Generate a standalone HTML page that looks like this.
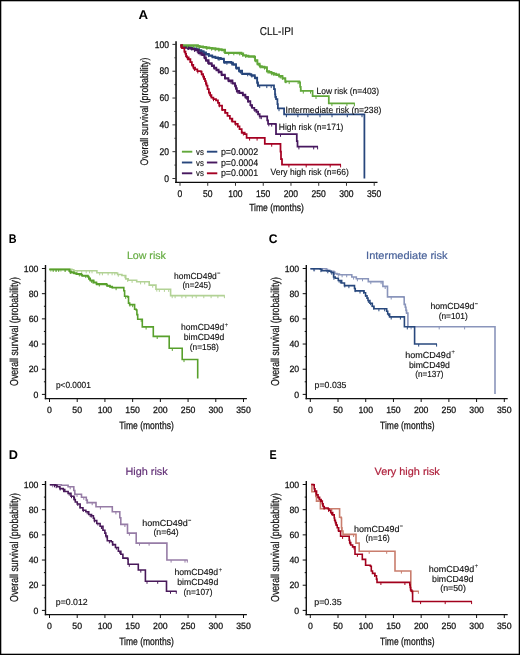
<!DOCTYPE html>
<html><head><meta charset="utf-8"><style>
html,body{margin:0;padding:0;background:#fff;}
body{width:520px;height:655px;overflow:hidden;position:relative;}
svg{position:absolute;left:0;top:0;display:block;will-change:transform;}
svg text{font-family:"Liberation Sans", sans-serif;text-rendering:geometricPrecision;}
</style></head><body>
<svg width="520" height="655" viewBox="0 0 520 655">
<rect x="0" y="0" width="520" height="655" fill="#fff"/>
<line x1="176.05" y1="41.3" x2="176.05" y2="183.0" stroke="#333" stroke-width="1.8"/>
<line x1="175.15" y1="182.4" x2="377.5" y2="182.4" stroke="#0a0a0a" stroke-width="1.2"/>
<line x1="172.45000000000002" y1="178.5" x2="176.05" y2="178.5" stroke="#333" stroke-width="1.0"/>
<text x="164.15" y="181.65" font-size="9.7" fill="#111" font-weight="normal" text-anchor="start" textLength="4.75" lengthAdjust="spacingAndGlyphs" stroke="#111" stroke-width="0.25">0</text>
<line x1="174.45000000000002" y1="165.09" x2="176.05" y2="165.09" stroke="#333" stroke-width="1.0"/>
<line x1="172.45000000000002" y1="151.68" x2="176.05" y2="151.68" stroke="#333" stroke-width="1.0"/>
<text x="159.4" y="154.83" font-size="9.7" fill="#111" font-weight="normal" text-anchor="start" textLength="9.5" lengthAdjust="spacingAndGlyphs" stroke="#111" stroke-width="0.25">20</text>
<line x1="174.45000000000002" y1="138.26999999999998" x2="176.05" y2="138.26999999999998" stroke="#333" stroke-width="1.0"/>
<line x1="172.45000000000002" y1="124.86" x2="176.05" y2="124.86" stroke="#333" stroke-width="1.0"/>
<text x="159.4" y="128.01" font-size="9.7" fill="#111" font-weight="normal" text-anchor="start" textLength="9.5" lengthAdjust="spacingAndGlyphs" stroke="#111" stroke-width="0.25">40</text>
<line x1="174.45000000000002" y1="111.45" x2="176.05" y2="111.45" stroke="#333" stroke-width="1.0"/>
<line x1="172.45000000000002" y1="98.03999999999999" x2="176.05" y2="98.03999999999999" stroke="#333" stroke-width="1.0"/>
<text x="159.4" y="101.19" font-size="9.7" fill="#111" font-weight="normal" text-anchor="start" textLength="9.5" lengthAdjust="spacingAndGlyphs" stroke="#111" stroke-width="0.25">60</text>
<line x1="174.45000000000002" y1="84.63" x2="176.05" y2="84.63" stroke="#333" stroke-width="1.0"/>
<line x1="172.45000000000002" y1="71.22" x2="176.05" y2="71.22" stroke="#333" stroke-width="1.0"/>
<text x="159.4" y="74.37" font-size="9.7" fill="#111" font-weight="normal" text-anchor="start" textLength="9.5" lengthAdjust="spacingAndGlyphs" stroke="#111" stroke-width="0.25">80</text>
<line x1="174.45000000000002" y1="57.81" x2="176.05" y2="57.81" stroke="#333" stroke-width="1.0"/>
<line x1="172.45000000000002" y1="44.400000000000006" x2="176.05" y2="44.400000000000006" stroke="#333" stroke-width="1.0"/>
<text x="154.65" y="47.55" font-size="9.7" fill="#111" font-weight="normal" text-anchor="start" textLength="14.25" lengthAdjust="spacingAndGlyphs" stroke="#111" stroke-width="0.25">100</text>
<line x1="180.0" y1="182.4" x2="180.0" y2="185.8" stroke="#333" stroke-width="1.0"/>
<text x="177.62" y="197.1" font-size="9.7" fill="#111" font-weight="normal" text-anchor="start" textLength="4.75" lengthAdjust="spacingAndGlyphs" stroke="#111" stroke-width="0.25">0</text>
<line x1="207.745" y1="182.4" x2="207.745" y2="185.8" stroke="#333" stroke-width="1.0"/>
<text x="203.0" y="197.1" font-size="9.7" fill="#111" font-weight="normal" text-anchor="start" textLength="9.5" lengthAdjust="spacingAndGlyphs" stroke="#111" stroke-width="0.25">50</text>
<line x1="235.49" y1="182.4" x2="235.49" y2="185.8" stroke="#333" stroke-width="1.0"/>
<text x="228.37" y="197.1" font-size="9.7" fill="#111" font-weight="normal" text-anchor="start" textLength="14.25" lengthAdjust="spacingAndGlyphs" stroke="#111" stroke-width="0.25">100</text>
<line x1="263.235" y1="182.4" x2="263.235" y2="185.8" stroke="#333" stroke-width="1.0"/>
<text x="256.11" y="197.1" font-size="9.7" fill="#111" font-weight="normal" text-anchor="start" textLength="14.25" lengthAdjust="spacingAndGlyphs" stroke="#111" stroke-width="0.25">150</text>
<line x1="290.98" y1="182.4" x2="290.98" y2="185.8" stroke="#333" stroke-width="1.0"/>
<text x="283.86" y="197.1" font-size="9.7" fill="#111" font-weight="normal" text-anchor="start" textLength="14.25" lengthAdjust="spacingAndGlyphs" stroke="#111" stroke-width="0.25">200</text>
<line x1="318.725" y1="182.4" x2="318.725" y2="185.8" stroke="#333" stroke-width="1.0"/>
<text x="311.6" y="197.1" font-size="9.7" fill="#111" font-weight="normal" text-anchor="start" textLength="14.25" lengthAdjust="spacingAndGlyphs" stroke="#111" stroke-width="0.25">250</text>
<line x1="346.46999999999997" y1="182.4" x2="346.46999999999997" y2="185.8" stroke="#333" stroke-width="1.0"/>
<text x="339.34" y="197.1" font-size="9.7" fill="#111" font-weight="normal" text-anchor="start" textLength="14.25" lengthAdjust="spacingAndGlyphs" stroke="#111" stroke-width="0.25">300</text>
<line x1="374.215" y1="182.4" x2="374.215" y2="185.8" stroke="#333" stroke-width="1.0"/>
<text x="367.09" y="197.1" font-size="9.7" fill="#111" font-weight="normal" text-anchor="start" textLength="14.25" lengthAdjust="spacingAndGlyphs" stroke="#111" stroke-width="0.25">350</text>
<text transform="translate(148.1,111.55) rotate(-90)" x="-53.9" y="0" font-size="11.0" fill="#111" stroke="#111" stroke-width="0.2" textLength="107.8" lengthAdjust="spacingAndGlyphs">Overall survival (probability)</text>
<text x="249.2" y="211.4" font-size="10.3" fill="#111" font-weight="normal" text-anchor="start" textLength="54.6" lengthAdjust="spacingAndGlyphs" stroke="#111" stroke-width="0.25">Time (months)</text>
<path d="M180.5,45H182.25V46.30H184.00H185.33V46.73H188.00V47.17H190.67V47.60H192.00H193.50V48.40H196.50V49.20H198.00H199.12V50.10H201.38V51.00H202.50H203.68V52.40H206.02V53.80H207.20H208.90V55.25H212.30V56.70H214.00H215.37V57.30H218.10V57.90H220.83V58.50H222.20H223.90V61.90H225.60H231.4V62.5H233.00V64.20H234.60H236.05V67.70H237.50H238.95V70.60H240.40H242.10V73.50H243.80H249.6V74H251.35V75.20H253.10H254.80V77.50H256.50H257.2V82.4H257.95V85.30H258.70H273.6H274V89.1H275V94.4H275.35V96.80H276.05V99.20H276.40H277.4V104H277.9V108.4H283.7H284.1V114.4H364.4V178.4" fill="none" stroke="#27467c" stroke-width="1.75" stroke-linejoin="miter" stroke-linecap="butt"/>
<path d="M180.5,45.9H182.25V47.20H184.00H185.33V47.63H188.00V48.07H190.67V48.50H192.00H193.50V49.30H196.50V50.10H198.00H199.12V51.00H201.38V51.90H202.50H203.68V53.30H206.02V54.70H207.20H208.90V56.15H212.30V57.60H214.00H215.37V58.20H218.10V58.80H220.83V59.40H222.20H223.90V62.80H225.60H231.4V63.4H233.00V65.10H234.60H236.05V68.60H237.50H238.95V71.50H240.40H242.10V74.40H243.80H249.6V74.9H251.35V76.10H253.10H254.80V78.40H256.50H257.2V83.3H257.95V86.20H258.70" fill="none" stroke="#27467c" stroke-width="1.40" stroke-linejoin="miter"/>
<path d="M182.1,45.59v2.8M188.5,47.03v2.8M191.4,47.50v2.8M194.8,48.35v2.8M200.3,50.11v2.8M205.3,52.64v2.8M208.5,54.34v2.8M218.2,57.62v2.8M219.2,57.83v2.8M224.9,61.20v2.8M226.9,61.90v2.8M231.7,62.65v2.8M236.9,67.03v2.8M239.5,69.71v2.8M240.5,70.72v2.8M247.7,73.50v2.8M251.9,74.78v2.8M255.2,76.62v2.8M257.4,82.86v2.8M259.7,85.30v2.8M266.8,85.30v2.8M271.2,85.30v2.8M275.3,95.56v2.8M279.0,108.40v2.8M286.4,114.40v2.8M297.9,114.40v2.8M307.9,114.40v2.8M320.0,114.40v2.8M332.0,114.40v2.8M347.3,114.40v2.8M362.0,114.40v2.8" fill="none" stroke="#27467c" stroke-width="1.0"/>
<path d="M180.5,45H182.25V46.30H184.00H185.50V47.05H188.50V47.80H190.00H191.70V48.75H195.10V49.70H196.80H198.50V52.70H200.20H201.95V54.40H203.70H204.42V57.30H205.88V60.20H206.60H208.60V63.10H210.60H211.75V65.40H214.05V67.70H215.20H216.35V69.70H218.65V71.70H219.80H221.55V74.50H223.30H224.90V78.00H226.50H228.40V80.40H230.30H232.45V83.00H234.60H235.03V85.60H235.90V88.20H236.77V90.80H237.20H239.35V92.50H241.50H242.80V94.65H245.40V96.80H246.70H248.00V101.20H249.30H250.35V105.00H251.40H252.15V107.90H252.90H254.35V109.80H255.80H256.50V111.70H257.20H258.15V114.10H259.10H259.65V116.40H260.20H266.3H267.2V120.4H268.05V123.80H268.90H275.4V124H276V134.0H296H296.8V141.2H297.5V146.6H318.0" fill="none" stroke="#47185f" stroke-width="1.75" stroke-linejoin="miter" stroke-linecap="butt"/>
<path d="M180.5,45.9H182.25V47.20H184.00H185.50V47.95H188.50V48.70H190.00H191.70V49.65H195.10V50.60H196.80H198.50V53.60H200.20H201.95V55.30H203.70H204.42V58.20H205.88V61.10H206.60H208.60V64.00H210.60H211.75V66.30H214.05V68.60H215.20H216.35V70.60H218.65V72.60H219.80H221.55V75.40H223.30H224.90V78.90H226.50H228.40V81.30H230.30H232.45V83.90H234.60H235.03V86.50H235.90V89.10H236.77V91.70H237.20H239.35V93.40H241.50H242.80V95.55H245.40V97.70H246.70H248.00V102.10H249.30" fill="none" stroke="#47185f" stroke-width="1.40" stroke-linejoin="miter"/>
<path d="M317.60,146.60v2.8" stroke="#47185f" stroke-width="1.0" fill="none"/>
<path d="M182.2,45.62v2.8M187.9,47.29v2.8M194.5,49.07v2.8M197.3,50.13v2.8M200.2,52.72v2.8M204.8,56.57v2.8M207.7,60.99v2.8M214.3,66.83v2.8M218.4,70.46v2.8M221.9,73.38v2.8M225.1,76.45v2.8M229.0,79.59v2.8M230.9,80.78v2.8M235.7,86.43v2.8M237.9,91.08v2.8M246.2,96.40v2.8M246.9,97.06v2.8M251.0,104.31v2.8M251.5,105.22v2.8M254.9,109.21v2.8M256.3,110.44v2.8M258.0,112.67v2.8M260.0,116.04v2.8M261.3,116.40v2.8M268.8,123.51v2.8M271.7,123.80v2.8M280.5,134.00v2.8M298.9,146.60v2.8M313.7,146.60v2.8" fill="none" stroke="#47185f" stroke-width="1.0"/>
<path d="M180.5,45H190V45.2H198V45.8H199.70V46.35H203.10V46.90H204.80H206.33V47.33H209.40V47.77H212.47V48.20H214.00H215.55V48.67H218.65V49.13H221.75V49.60H223.30H225.05V52.50H226.80H236.9V52.7H241.5V53.3H243.25V55.00H245.00H246.15V55.60H248.45V56.20H249.60H254.2V56.7H255.10V60.20H256.00H257.40V63.70H258.80H259.70V66.00H260.60H261.90V66.55H264.50V67.10H265.80H266.95V71.00H268.10H269.25V71.95H271.55V72.90H272.70H273.85V73.60H276.15V74.30H277.30H279.05V75.90H280.80H282.50V78.00H284.20H285.35V81.30H286.50H299.4V82.3H300.1V86.8H300.75V90.80H301.40H312.4H312.6V96.2H328.6H328.8V103.3H354.8" fill="none" stroke="#62a83b" stroke-width="1.75" stroke-linejoin="miter" stroke-linecap="butt"/>
<path d="M180.5,45.9H190V46.1H198V46.7H199.70V47.25H203.10V47.80H204.80H206.33V48.23H209.40V48.67H212.47V49.10H214.00H215.55V49.57H218.65V50.03H221.75V50.50H223.30H225.05V53.40H226.80H236.9V53.6H241.5V54.2H243.25V55.90H245.00H246.15V56.50H248.45V57.10H249.60H254.2V57.6H255.10V61.10H256.00H257.40V64.60H258.80H259.70V66.90H260.60H261.90V67.45H264.50V68.00H265.80H266.95V71.90H268.10H269.25V72.85H271.55V73.80H272.70H273.85V74.50H276.15V75.20H277.30H279.05V76.80H280.80H282.50V78.90H284.20H285.35V82.20H286.50" fill="none" stroke="#62a83b" stroke-width="1.40" stroke-linejoin="miter"/>
<path d="M354.40,103.30v2.8" stroke="#62a83b" stroke-width="1.0" fill="none"/>
<path d="M182.3,45.00v2.8M187.4,45.00v2.8M193.5,45.20v2.8M196.7,45.20v2.8M199.0,45.96v2.8M206.9,47.19v2.8M211.6,47.85v2.8M215.2,48.38v2.8M218.9,48.94v2.8M224.0,50.22v2.8M228.7,52.50v2.8M233.8,52.50v2.8M239.7,52.70v2.8M242.5,53.77v2.8M245.7,55.18v2.8M255.7,59.53v2.8M258.3,63.02v2.8M260.3,65.60v2.8M264.5,66.82v2.8M268.0,70.80v2.8M271.8,72.51v2.8M273.9,73.26v2.8M280.3,75.66v2.8M282.5,76.92v2.8M285.9,80.49v2.8M289.2,81.30v2.8M298.1,81.30v2.8M300.7,88.52v2.8M303.3,90.80v2.8M310.5,90.80v2.8M316.0,96.20v2.8M331.9,103.30v2.8M346.9,103.30v2.8" fill="none" stroke="#62a83b" stroke-width="1.0"/>
<path d="M180.5,45H182.00V48.10H183.50H184.35V51.50H185.20H185.50V53.85H186.10V56.20H186.40H186.95V57.30H187.50H188.65V59.00H189.80H190.40V62.00H191.00H191.85V64.80H192.70H193.30V67.70H193.90H195.05V69.40H196.20H197.35V71.20H198.50H200.8V71.7H201.65V74.00H202.50H203.10V76.50H203.70H204.15V78.75H205.05V81.00H205.50H205.85V83.30H206.55V85.60H206.90H207.55V89.05H208.85V92.50H209.50H210.15V95.10H211.45V97.70H212.10H213.40V99.00H216.00V100.30H217.30H217.95V102.90H219.25V105.50H219.90H222.05V109.80H224.20H225.30V112.85H227.50V115.90H228.60H229.85V118.70H232.35V121.50H233.60H235.25V123.80H236.90H237.78V126.40H239.53V129.00H240.40H241.70V132.50H243.00H244.70V134.20H246.40H246.6V137.8H264.6H264.8V143.9H279.5H280.5V151.5H281V159.2H282V164.6H341" fill="none" stroke="#a50022" stroke-width="1.75" stroke-linejoin="miter" stroke-linecap="butt"/>
<path d="M340.60,164.60v2.8" stroke="#a50022" stroke-width="1.0" fill="none"/>
<path d="M180.8,45.33v2.8M184.7,50.49v2.8M186.0,54.56v2.8M187.4,57.23v2.8M188.1,57.76v2.8M190.1,59.77v2.8M192.2,64.06v2.8M193.5,66.71v2.8M194.6,68.22v2.8M197.8,70.63v2.8M201.5,72.61v2.8M203.4,75.94v2.8M203.9,77.03v2.8M205.8,82.03v2.8M209.2,91.82v2.8M210.4,94.36v2.8M213.5,98.38v2.8M219.4,104.48v2.8M222.6,108.22v2.8M224.9,110.71v2.8M231.4,118.99v2.8M235.8,123.03v2.8M237.5,124.66v2.8M242.1,131.28v2.8M243.4,132.71v2.8M249.6,137.80v2.8M257.1,137.80v2.8M271.7,143.90v2.8M288.9,164.60v2.8M306.2,164.60v2.8M330.2,164.60v2.8" fill="none" stroke="#a50022" stroke-width="1.0"/>
<text x="138.5" y="18.8" font-size="12.6" fill="#000" font-weight="bold" text-anchor="start" textLength="9.6" lengthAdjust="spacingAndGlyphs">A</text>
<text x="259.8" y="35.1" font-size="11.3" fill="#111" font-weight="normal" text-anchor="start" textLength="33.8" lengthAdjust="spacingAndGlyphs" stroke="#111" stroke-width="0.15">CLL-IPI</text>
<text x="316.5" y="93.6" font-size="9.0" fill="#111" font-weight="normal" text-anchor="start" textLength="62.6" lengthAdjust="spacingAndGlyphs" stroke="#111" stroke-width="0.15">Low risk (n=403)</text>
<text x="285.5" y="112.7" font-size="9.0" fill="#111" font-weight="normal" text-anchor="start" textLength="95.8" lengthAdjust="spacingAndGlyphs" stroke="#111" stroke-width="0.15">Intermediate risk (n=238)</text>
<text x="278.8" y="130.0" font-size="9.0" fill="#111" font-weight="normal" text-anchor="start" textLength="64.6" lengthAdjust="spacingAndGlyphs" stroke="#111" stroke-width="0.15">High risk (n=171)</text>
<text x="270.6" y="174.6" font-size="9.0" fill="#111" font-weight="normal" text-anchor="start" textLength="78.2" lengthAdjust="spacingAndGlyphs" stroke="#111" stroke-width="0.15">Very high risk (n=66)</text>
<line x1="181.9" y1="151.7" x2="192.3" y2="151.7" stroke="#62a83b" stroke-width="1.9"/>
<line x1="206.9" y1="151.7" x2="217.3" y2="151.7" stroke="#27467c" stroke-width="1.9"/>
<text x="196.0" y="154.8" font-size="9.0" fill="#111" font-weight="normal" text-anchor="start" textLength="7.8" lengthAdjust="spacingAndGlyphs" stroke="#111" stroke-width="0.15">vs</text>
<text x="220.9" y="154.8" font-size="9.5" fill="#111" font-weight="normal" text-anchor="start" textLength="37.2" lengthAdjust="spacingAndGlyphs" stroke="#111" stroke-width="0.15">p=0.0002</text>
<line x1="181.9" y1="162.5" x2="192.3" y2="162.5" stroke="#27467c" stroke-width="1.9"/>
<line x1="206.9" y1="162.5" x2="217.3" y2="162.5" stroke="#47185f" stroke-width="1.9"/>
<text x="196.0" y="165.6" font-size="9.0" fill="#111" font-weight="normal" text-anchor="start" textLength="7.8" lengthAdjust="spacingAndGlyphs" stroke="#111" stroke-width="0.15">vs</text>
<text x="220.9" y="165.6" font-size="9.5" fill="#111" font-weight="normal" text-anchor="start" textLength="37.2" lengthAdjust="spacingAndGlyphs" stroke="#111" stroke-width="0.15">p=0.0004</text>
<line x1="181.9" y1="173.3" x2="192.3" y2="173.3" stroke="#47185f" stroke-width="1.9"/>
<line x1="206.9" y1="173.3" x2="217.3" y2="173.3" stroke="#a50022" stroke-width="1.9"/>
<text x="196.0" y="176.4" font-size="9.0" fill="#111" font-weight="normal" text-anchor="start" textLength="7.8" lengthAdjust="spacingAndGlyphs" stroke="#111" stroke-width="0.15">vs</text>
<text x="220.9" y="176.4" font-size="9.5" fill="#111" font-weight="normal" text-anchor="start" textLength="37.2" lengthAdjust="spacingAndGlyphs" stroke="#111" stroke-width="0.15">p=0.0001</text>
<line x1="45.5" y1="265" x2="45.5" y2="399.25" stroke="#111" stroke-width="1.4"/>
<line x1="44.8" y1="398.6" x2="246.9" y2="398.6" stroke="#111" stroke-width="1.3"/>
<line x1="41.9" y1="394.4" x2="45.5" y2="394.4" stroke="#111" stroke-width="1.0"/>
<text x="33.55" y="397.55" font-size="9.1" fill="#111" font-weight="normal" text-anchor="start" textLength="4.85" lengthAdjust="spacingAndGlyphs" stroke="#111" stroke-width="0.25">0</text>
<line x1="43.9" y1="381.81" x2="45.5" y2="381.81" stroke="#111" stroke-width="1.0"/>
<line x1="41.9" y1="369.21999999999997" x2="45.5" y2="369.21999999999997" stroke="#111" stroke-width="1.0"/>
<text x="28.7" y="372.37" font-size="9.1" fill="#111" font-weight="normal" text-anchor="start" textLength="9.7" lengthAdjust="spacingAndGlyphs" stroke="#111" stroke-width="0.25">20</text>
<line x1="43.9" y1="356.63" x2="45.5" y2="356.63" stroke="#111" stroke-width="1.0"/>
<line x1="41.9" y1="344.03999999999996" x2="45.5" y2="344.03999999999996" stroke="#111" stroke-width="1.0"/>
<text x="28.7" y="347.19" font-size="9.1" fill="#111" font-weight="normal" text-anchor="start" textLength="9.7" lengthAdjust="spacingAndGlyphs" stroke="#111" stroke-width="0.25">40</text>
<line x1="43.9" y1="331.45" x2="45.5" y2="331.45" stroke="#111" stroke-width="1.0"/>
<line x1="41.9" y1="318.86" x2="45.5" y2="318.86" stroke="#111" stroke-width="1.0"/>
<text x="28.7" y="322.01" font-size="9.1" fill="#111" font-weight="normal" text-anchor="start" textLength="9.7" lengthAdjust="spacingAndGlyphs" stroke="#111" stroke-width="0.25">60</text>
<line x1="43.9" y1="306.27" x2="45.5" y2="306.27" stroke="#111" stroke-width="1.0"/>
<line x1="41.9" y1="293.68" x2="45.5" y2="293.68" stroke="#111" stroke-width="1.0"/>
<text x="28.7" y="296.83" font-size="9.1" fill="#111" font-weight="normal" text-anchor="start" textLength="9.7" lengthAdjust="spacingAndGlyphs" stroke="#111" stroke-width="0.25">80</text>
<line x1="43.9" y1="281.09" x2="45.5" y2="281.09" stroke="#111" stroke-width="1.0"/>
<line x1="41.9" y1="268.5" x2="45.5" y2="268.5" stroke="#111" stroke-width="1.0"/>
<text x="23.85" y="271.65" font-size="9.1" fill="#111" font-weight="normal" text-anchor="start" textLength="14.549999999999999" lengthAdjust="spacingAndGlyphs" stroke="#111" stroke-width="0.25">100</text>
<line x1="49.5" y1="398.6" x2="49.5" y2="402.0" stroke="#111" stroke-width="1.0"/>
<text x="47.08" y="413.3" font-size="9.1" fill="#111" font-weight="normal" text-anchor="start" textLength="4.85" lengthAdjust="spacingAndGlyphs" stroke="#111" stroke-width="0.25">0</text>
<line x1="77.215" y1="398.6" x2="77.215" y2="402.0" stroke="#111" stroke-width="1.0"/>
<text x="72.37" y="413.3" font-size="9.1" fill="#111" font-weight="normal" text-anchor="start" textLength="9.7" lengthAdjust="spacingAndGlyphs" stroke="#111" stroke-width="0.25">50</text>
<line x1="104.93" y1="398.6" x2="104.93" y2="402.0" stroke="#111" stroke-width="1.0"/>
<text x="97.66" y="413.3" font-size="9.1" fill="#111" font-weight="normal" text-anchor="start" textLength="14.549999999999999" lengthAdjust="spacingAndGlyphs" stroke="#111" stroke-width="0.25">100</text>
<line x1="132.64499999999998" y1="398.6" x2="132.64499999999998" y2="402.0" stroke="#111" stroke-width="1.0"/>
<text x="125.37" y="413.3" font-size="9.1" fill="#111" font-weight="normal" text-anchor="start" textLength="14.549999999999999" lengthAdjust="spacingAndGlyphs" stroke="#111" stroke-width="0.25">150</text>
<line x1="160.36" y1="398.6" x2="160.36" y2="402.0" stroke="#111" stroke-width="1.0"/>
<text x="153.09" y="413.3" font-size="9.1" fill="#111" font-weight="normal" text-anchor="start" textLength="14.549999999999999" lengthAdjust="spacingAndGlyphs" stroke="#111" stroke-width="0.25">200</text>
<line x1="188.07500000000002" y1="398.6" x2="188.07500000000002" y2="402.0" stroke="#111" stroke-width="1.0"/>
<text x="180.8" y="413.3" font-size="9.1" fill="#111" font-weight="normal" text-anchor="start" textLength="14.549999999999999" lengthAdjust="spacingAndGlyphs" stroke="#111" stroke-width="0.25">250</text>
<line x1="215.79" y1="398.6" x2="215.79" y2="402.0" stroke="#111" stroke-width="1.0"/>
<text x="208.51" y="413.3" font-size="9.1" fill="#111" font-weight="normal" text-anchor="start" textLength="14.549999999999999" lengthAdjust="spacingAndGlyphs" stroke="#111" stroke-width="0.25">300</text>
<line x1="243.505" y1="398.6" x2="243.505" y2="402.0" stroke="#111" stroke-width="1.0"/>
<text x="236.23" y="413.3" font-size="9.1" fill="#111" font-weight="normal" text-anchor="start" textLength="14.549999999999999" lengthAdjust="spacingAndGlyphs" stroke="#111" stroke-width="0.25">350</text>
<text transform="translate(17.9,331.55) rotate(-90)" x="-54.4" y="0" font-size="11.5" fill="#111" stroke="#111" stroke-width="0.2" textLength="108.8" lengthAdjust="spacingAndGlyphs">Overall survival (probability)</text>
<text x="119.2" y="428.5" font-size="10.7" fill="#111" font-weight="normal" text-anchor="start" textLength="54.6" lengthAdjust="spacingAndGlyphs" stroke="#111" stroke-width="0.25">Time (months)</text>
<line x1="306.3" y1="265" x2="306.3" y2="399.25" stroke="#111" stroke-width="1.4"/>
<line x1="305.6" y1="398.6" x2="507.70000000000005" y2="398.6" stroke="#111" stroke-width="1.3"/>
<line x1="302.7" y1="394.4" x2="306.3" y2="394.4" stroke="#111" stroke-width="1.0"/>
<text x="294.35" y="397.55" font-size="9.1" fill="#111" font-weight="normal" text-anchor="start" textLength="4.85" lengthAdjust="spacingAndGlyphs" stroke="#111" stroke-width="0.25">0</text>
<line x1="304.7" y1="381.81" x2="306.3" y2="381.81" stroke="#111" stroke-width="1.0"/>
<line x1="302.7" y1="369.21999999999997" x2="306.3" y2="369.21999999999997" stroke="#111" stroke-width="1.0"/>
<text x="289.5" y="372.37" font-size="9.1" fill="#111" font-weight="normal" text-anchor="start" textLength="9.7" lengthAdjust="spacingAndGlyphs" stroke="#111" stroke-width="0.25">20</text>
<line x1="304.7" y1="356.63" x2="306.3" y2="356.63" stroke="#111" stroke-width="1.0"/>
<line x1="302.7" y1="344.03999999999996" x2="306.3" y2="344.03999999999996" stroke="#111" stroke-width="1.0"/>
<text x="289.5" y="347.19" font-size="9.1" fill="#111" font-weight="normal" text-anchor="start" textLength="9.7" lengthAdjust="spacingAndGlyphs" stroke="#111" stroke-width="0.25">40</text>
<line x1="304.7" y1="331.45" x2="306.3" y2="331.45" stroke="#111" stroke-width="1.0"/>
<line x1="302.7" y1="318.86" x2="306.3" y2="318.86" stroke="#111" stroke-width="1.0"/>
<text x="289.5" y="322.01" font-size="9.1" fill="#111" font-weight="normal" text-anchor="start" textLength="9.7" lengthAdjust="spacingAndGlyphs" stroke="#111" stroke-width="0.25">60</text>
<line x1="304.7" y1="306.27" x2="306.3" y2="306.27" stroke="#111" stroke-width="1.0"/>
<line x1="302.7" y1="293.68" x2="306.3" y2="293.68" stroke="#111" stroke-width="1.0"/>
<text x="289.5" y="296.83" font-size="9.1" fill="#111" font-weight="normal" text-anchor="start" textLength="9.7" lengthAdjust="spacingAndGlyphs" stroke="#111" stroke-width="0.25">80</text>
<line x1="304.7" y1="281.09" x2="306.3" y2="281.09" stroke="#111" stroke-width="1.0"/>
<line x1="302.7" y1="268.5" x2="306.3" y2="268.5" stroke="#111" stroke-width="1.0"/>
<text x="284.65" y="271.65" font-size="9.1" fill="#111" font-weight="normal" text-anchor="start" textLength="14.549999999999999" lengthAdjust="spacingAndGlyphs" stroke="#111" stroke-width="0.25">100</text>
<line x1="310.3" y1="398.6" x2="310.3" y2="402.0" stroke="#111" stroke-width="1.0"/>
<text x="307.88" y="413.3" font-size="9.1" fill="#111" font-weight="normal" text-anchor="start" textLength="4.85" lengthAdjust="spacingAndGlyphs" stroke="#111" stroke-width="0.25">0</text>
<line x1="338.015" y1="398.6" x2="338.015" y2="402.0" stroke="#111" stroke-width="1.0"/>
<text x="333.16" y="413.3" font-size="9.1" fill="#111" font-weight="normal" text-anchor="start" textLength="9.7" lengthAdjust="spacingAndGlyphs" stroke="#111" stroke-width="0.25">50</text>
<line x1="365.73" y1="398.6" x2="365.73" y2="402.0" stroke="#111" stroke-width="1.0"/>
<text x="358.46" y="413.3" font-size="9.1" fill="#111" font-weight="normal" text-anchor="start" textLength="14.549999999999999" lengthAdjust="spacingAndGlyphs" stroke="#111" stroke-width="0.25">100</text>
<line x1="393.445" y1="398.6" x2="393.445" y2="402.0" stroke="#111" stroke-width="1.0"/>
<text x="386.17" y="413.3" font-size="9.1" fill="#111" font-weight="normal" text-anchor="start" textLength="14.549999999999999" lengthAdjust="spacingAndGlyphs" stroke="#111" stroke-width="0.25">150</text>
<line x1="421.16" y1="398.6" x2="421.16" y2="402.0" stroke="#111" stroke-width="1.0"/>
<text x="413.89" y="413.3" font-size="9.1" fill="#111" font-weight="normal" text-anchor="start" textLength="14.549999999999999" lengthAdjust="spacingAndGlyphs" stroke="#111" stroke-width="0.25">200</text>
<line x1="448.875" y1="398.6" x2="448.875" y2="402.0" stroke="#111" stroke-width="1.0"/>
<text x="441.6" y="413.3" font-size="9.1" fill="#111" font-weight="normal" text-anchor="start" textLength="14.549999999999999" lengthAdjust="spacingAndGlyphs" stroke="#111" stroke-width="0.25">250</text>
<line x1="476.59000000000003" y1="398.6" x2="476.59000000000003" y2="402.0" stroke="#111" stroke-width="1.0"/>
<text x="469.32" y="413.3" font-size="9.1" fill="#111" font-weight="normal" text-anchor="start" textLength="14.549999999999999" lengthAdjust="spacingAndGlyphs" stroke="#111" stroke-width="0.25">300</text>
<line x1="504.305" y1="398.6" x2="504.305" y2="402.0" stroke="#111" stroke-width="1.0"/>
<text x="497.03" y="413.3" font-size="9.1" fill="#111" font-weight="normal" text-anchor="start" textLength="14.549999999999999" lengthAdjust="spacingAndGlyphs" stroke="#111" stroke-width="0.25">350</text>
<text transform="translate(278.7,331.55) rotate(-90)" x="-54.4" y="0" font-size="11.5" fill="#111" stroke="#111" stroke-width="0.2" textLength="108.8" lengthAdjust="spacingAndGlyphs">Overall survival (probability)</text>
<text x="380.0" y="428.5" font-size="10.7" fill="#111" font-weight="normal" text-anchor="start" textLength="54.6" lengthAdjust="spacingAndGlyphs" stroke="#111" stroke-width="0.25">Time (months)</text>
<line x1="45.5" y1="481" x2="45.5" y2="615.25" stroke="#111" stroke-width="1.4"/>
<line x1="44.8" y1="614.6" x2="246.9" y2="614.6" stroke="#111" stroke-width="1.3"/>
<line x1="41.9" y1="610.4" x2="45.5" y2="610.4" stroke="#111" stroke-width="1.0"/>
<text x="33.55" y="613.55" font-size="9.1" fill="#111" font-weight="normal" text-anchor="start" textLength="4.85" lengthAdjust="spacingAndGlyphs" stroke="#111" stroke-width="0.25">0</text>
<line x1="43.9" y1="597.81" x2="45.5" y2="597.81" stroke="#111" stroke-width="1.0"/>
<line x1="41.9" y1="585.22" x2="45.5" y2="585.22" stroke="#111" stroke-width="1.0"/>
<text x="28.7" y="588.37" font-size="9.1" fill="#111" font-weight="normal" text-anchor="start" textLength="9.7" lengthAdjust="spacingAndGlyphs" stroke="#111" stroke-width="0.25">20</text>
<line x1="43.9" y1="572.63" x2="45.5" y2="572.63" stroke="#111" stroke-width="1.0"/>
<line x1="41.9" y1="560.04" x2="45.5" y2="560.04" stroke="#111" stroke-width="1.0"/>
<text x="28.7" y="563.19" font-size="9.1" fill="#111" font-weight="normal" text-anchor="start" textLength="9.7" lengthAdjust="spacingAndGlyphs" stroke="#111" stroke-width="0.25">40</text>
<line x1="43.9" y1="547.45" x2="45.5" y2="547.45" stroke="#111" stroke-width="1.0"/>
<line x1="41.9" y1="534.86" x2="45.5" y2="534.86" stroke="#111" stroke-width="1.0"/>
<text x="28.7" y="538.01" font-size="9.1" fill="#111" font-weight="normal" text-anchor="start" textLength="9.7" lengthAdjust="spacingAndGlyphs" stroke="#111" stroke-width="0.25">60</text>
<line x1="43.9" y1="522.27" x2="45.5" y2="522.27" stroke="#111" stroke-width="1.0"/>
<line x1="41.9" y1="509.68" x2="45.5" y2="509.68" stroke="#111" stroke-width="1.0"/>
<text x="28.7" y="512.83" font-size="9.1" fill="#111" font-weight="normal" text-anchor="start" textLength="9.7" lengthAdjust="spacingAndGlyphs" stroke="#111" stroke-width="0.25">80</text>
<line x1="43.9" y1="497.09" x2="45.5" y2="497.09" stroke="#111" stroke-width="1.0"/>
<line x1="41.9" y1="484.5" x2="45.5" y2="484.5" stroke="#111" stroke-width="1.0"/>
<text x="23.85" y="487.65" font-size="9.1" fill="#111" font-weight="normal" text-anchor="start" textLength="14.549999999999999" lengthAdjust="spacingAndGlyphs" stroke="#111" stroke-width="0.25">100</text>
<line x1="49.5" y1="614.6" x2="49.5" y2="618.0" stroke="#111" stroke-width="1.0"/>
<text x="47.08" y="629.3" font-size="9.1" fill="#111" font-weight="normal" text-anchor="start" textLength="4.85" lengthAdjust="spacingAndGlyphs" stroke="#111" stroke-width="0.25">0</text>
<line x1="77.215" y1="614.6" x2="77.215" y2="618.0" stroke="#111" stroke-width="1.0"/>
<text x="72.37" y="629.3" font-size="9.1" fill="#111" font-weight="normal" text-anchor="start" textLength="9.7" lengthAdjust="spacingAndGlyphs" stroke="#111" stroke-width="0.25">50</text>
<line x1="104.93" y1="614.6" x2="104.93" y2="618.0" stroke="#111" stroke-width="1.0"/>
<text x="97.66" y="629.3" font-size="9.1" fill="#111" font-weight="normal" text-anchor="start" textLength="14.549999999999999" lengthAdjust="spacingAndGlyphs" stroke="#111" stroke-width="0.25">100</text>
<line x1="132.64499999999998" y1="614.6" x2="132.64499999999998" y2="618.0" stroke="#111" stroke-width="1.0"/>
<text x="125.37" y="629.3" font-size="9.1" fill="#111" font-weight="normal" text-anchor="start" textLength="14.549999999999999" lengthAdjust="spacingAndGlyphs" stroke="#111" stroke-width="0.25">150</text>
<line x1="160.36" y1="614.6" x2="160.36" y2="618.0" stroke="#111" stroke-width="1.0"/>
<text x="153.09" y="629.3" font-size="9.1" fill="#111" font-weight="normal" text-anchor="start" textLength="14.549999999999999" lengthAdjust="spacingAndGlyphs" stroke="#111" stroke-width="0.25">200</text>
<line x1="188.07500000000002" y1="614.6" x2="188.07500000000002" y2="618.0" stroke="#111" stroke-width="1.0"/>
<text x="180.8" y="629.3" font-size="9.1" fill="#111" font-weight="normal" text-anchor="start" textLength="14.549999999999999" lengthAdjust="spacingAndGlyphs" stroke="#111" stroke-width="0.25">250</text>
<line x1="215.79" y1="614.6" x2="215.79" y2="618.0" stroke="#111" stroke-width="1.0"/>
<text x="208.51" y="629.3" font-size="9.1" fill="#111" font-weight="normal" text-anchor="start" textLength="14.549999999999999" lengthAdjust="spacingAndGlyphs" stroke="#111" stroke-width="0.25">300</text>
<line x1="243.505" y1="614.6" x2="243.505" y2="618.0" stroke="#111" stroke-width="1.0"/>
<text x="236.23" y="629.3" font-size="9.1" fill="#111" font-weight="normal" text-anchor="start" textLength="14.549999999999999" lengthAdjust="spacingAndGlyphs" stroke="#111" stroke-width="0.25">350</text>
<text transform="translate(17.9,547.5500000000001) rotate(-90)" x="-54.4" y="0" font-size="11.5" fill="#111" stroke="#111" stroke-width="0.2" textLength="108.8" lengthAdjust="spacingAndGlyphs">Overall survival (probability)</text>
<text x="119.2" y="644.5" font-size="10.7" fill="#111" font-weight="normal" text-anchor="start" textLength="54.6" lengthAdjust="spacingAndGlyphs" stroke="#111" stroke-width="0.25">Time (months)</text>
<line x1="306.3" y1="481" x2="306.3" y2="615.25" stroke="#111" stroke-width="1.4"/>
<line x1="305.6" y1="614.6" x2="507.70000000000005" y2="614.6" stroke="#111" stroke-width="1.3"/>
<line x1="302.7" y1="610.4" x2="306.3" y2="610.4" stroke="#111" stroke-width="1.0"/>
<text x="294.35" y="613.55" font-size="9.1" fill="#111" font-weight="normal" text-anchor="start" textLength="4.85" lengthAdjust="spacingAndGlyphs" stroke="#111" stroke-width="0.25">0</text>
<line x1="304.7" y1="597.81" x2="306.3" y2="597.81" stroke="#111" stroke-width="1.0"/>
<line x1="302.7" y1="585.22" x2="306.3" y2="585.22" stroke="#111" stroke-width="1.0"/>
<text x="289.5" y="588.37" font-size="9.1" fill="#111" font-weight="normal" text-anchor="start" textLength="9.7" lengthAdjust="spacingAndGlyphs" stroke="#111" stroke-width="0.25">20</text>
<line x1="304.7" y1="572.63" x2="306.3" y2="572.63" stroke="#111" stroke-width="1.0"/>
<line x1="302.7" y1="560.04" x2="306.3" y2="560.04" stroke="#111" stroke-width="1.0"/>
<text x="289.5" y="563.19" font-size="9.1" fill="#111" font-weight="normal" text-anchor="start" textLength="9.7" lengthAdjust="spacingAndGlyphs" stroke="#111" stroke-width="0.25">40</text>
<line x1="304.7" y1="547.45" x2="306.3" y2="547.45" stroke="#111" stroke-width="1.0"/>
<line x1="302.7" y1="534.86" x2="306.3" y2="534.86" stroke="#111" stroke-width="1.0"/>
<text x="289.5" y="538.01" font-size="9.1" fill="#111" font-weight="normal" text-anchor="start" textLength="9.7" lengthAdjust="spacingAndGlyphs" stroke="#111" stroke-width="0.25">60</text>
<line x1="304.7" y1="522.27" x2="306.3" y2="522.27" stroke="#111" stroke-width="1.0"/>
<line x1="302.7" y1="509.68" x2="306.3" y2="509.68" stroke="#111" stroke-width="1.0"/>
<text x="289.5" y="512.83" font-size="9.1" fill="#111" font-weight="normal" text-anchor="start" textLength="9.7" lengthAdjust="spacingAndGlyphs" stroke="#111" stroke-width="0.25">80</text>
<line x1="304.7" y1="497.09" x2="306.3" y2="497.09" stroke="#111" stroke-width="1.0"/>
<line x1="302.7" y1="484.5" x2="306.3" y2="484.5" stroke="#111" stroke-width="1.0"/>
<text x="284.65" y="487.65" font-size="9.1" fill="#111" font-weight="normal" text-anchor="start" textLength="14.549999999999999" lengthAdjust="spacingAndGlyphs" stroke="#111" stroke-width="0.25">100</text>
<line x1="310.3" y1="614.6" x2="310.3" y2="618.0" stroke="#111" stroke-width="1.0"/>
<text x="307.88" y="629.3" font-size="9.1" fill="#111" font-weight="normal" text-anchor="start" textLength="4.85" lengthAdjust="spacingAndGlyphs" stroke="#111" stroke-width="0.25">0</text>
<line x1="338.015" y1="614.6" x2="338.015" y2="618.0" stroke="#111" stroke-width="1.0"/>
<text x="333.16" y="629.3" font-size="9.1" fill="#111" font-weight="normal" text-anchor="start" textLength="9.7" lengthAdjust="spacingAndGlyphs" stroke="#111" stroke-width="0.25">50</text>
<line x1="365.73" y1="614.6" x2="365.73" y2="618.0" stroke="#111" stroke-width="1.0"/>
<text x="358.46" y="629.3" font-size="9.1" fill="#111" font-weight="normal" text-anchor="start" textLength="14.549999999999999" lengthAdjust="spacingAndGlyphs" stroke="#111" stroke-width="0.25">100</text>
<line x1="393.445" y1="614.6" x2="393.445" y2="618.0" stroke="#111" stroke-width="1.0"/>
<text x="386.17" y="629.3" font-size="9.1" fill="#111" font-weight="normal" text-anchor="start" textLength="14.549999999999999" lengthAdjust="spacingAndGlyphs" stroke="#111" stroke-width="0.25">150</text>
<line x1="421.16" y1="614.6" x2="421.16" y2="618.0" stroke="#111" stroke-width="1.0"/>
<text x="413.89" y="629.3" font-size="9.1" fill="#111" font-weight="normal" text-anchor="start" textLength="14.549999999999999" lengthAdjust="spacingAndGlyphs" stroke="#111" stroke-width="0.25">200</text>
<line x1="448.875" y1="614.6" x2="448.875" y2="618.0" stroke="#111" stroke-width="1.0"/>
<text x="441.6" y="629.3" font-size="9.1" fill="#111" font-weight="normal" text-anchor="start" textLength="14.549999999999999" lengthAdjust="spacingAndGlyphs" stroke="#111" stroke-width="0.25">250</text>
<line x1="476.59000000000003" y1="614.6" x2="476.59000000000003" y2="618.0" stroke="#111" stroke-width="1.0"/>
<text x="469.32" y="629.3" font-size="9.1" fill="#111" font-weight="normal" text-anchor="start" textLength="14.549999999999999" lengthAdjust="spacingAndGlyphs" stroke="#111" stroke-width="0.25">300</text>
<line x1="504.305" y1="614.6" x2="504.305" y2="618.0" stroke="#111" stroke-width="1.0"/>
<text x="497.03" y="629.3" font-size="9.1" fill="#111" font-weight="normal" text-anchor="start" textLength="14.549999999999999" lengthAdjust="spacingAndGlyphs" stroke="#111" stroke-width="0.25">350</text>
<text transform="translate(278.7,547.5500000000001) rotate(-90)" x="-54.4" y="0" font-size="11.5" fill="#111" stroke="#111" stroke-width="0.2" textLength="108.8" lengthAdjust="spacingAndGlyphs">Overall survival (probability)</text>
<text x="380.0" y="644.5" font-size="10.7" fill="#111" font-weight="normal" text-anchor="start" textLength="54.6" lengthAdjust="spacingAndGlyphs" stroke="#111" stroke-width="0.25">Time (months)</text>
<path d="M49.3,269.3H71.9V269.7H73.8V270.7H96H96.9V272.7H110.4H116.2V273.0H117.60V274.50H119.00H121.9V275.5H124.8H125.75V278.90H126.70H128.15V280.30H129.60H135.8H136.7V281.8H148.3H149.2V285.1H155H155.95V289.30H156.90H170.4H170.6V295.6H224.8" fill="none" stroke="#b2d295" stroke-width="1.6" stroke-linejoin="miter" stroke-linecap="butt"/>
<path d="M224.40,295.60v2.6" stroke="#b2d295" stroke-width="1.0" fill="none"/>
<path d="M50.8,269.30v2.6M56.0,269.30v2.6M60.9,269.30v2.6M65.2,269.30v2.6M68.5,269.30v2.6M77.2,270.70v2.6M81.7,270.70v2.6M86.2,270.70v2.6M89.6,270.70v2.6M92.0,270.70v2.6M99.7,272.70v2.6M102.4,272.70v2.6M108.1,272.70v2.6M112.1,272.70v2.6M114.8,272.70v2.6M118.3,274.11v2.6M124.9,275.62v2.6M127.7,279.36v2.6M132.1,280.30v2.6M140.6,281.80v2.6M144.7,281.80v2.6M152.7,285.10v2.6M156.8,289.00v2.6M159.3,289.30v2.6M164.4,289.30v2.6M168.7,289.30v2.6M172.2,295.60v2.6M175.1,295.60v2.6M181.9,295.60v2.6M185.8,295.60v2.6M192.3,295.60v2.6M196.2,295.60v2.6M203.8,295.60v2.6M211.1,295.60v2.6M217.9,295.60v2.6" fill="none" stroke="#b2d295" stroke-width="1.0"/>
<path d="M49.3,269.3H68.7H69.6V271.2H71.05V272.15H73.95V273.10H75.40H76.3V273.8H81.2V274.6H82.1V275.5H87.9V276.5H88.8V278.4H90.25V280.30H91.70H93.65V282.30H95.60H96.5V283.9H106.2V284.2H107.1V285.6H110V286.6H112.3V287.6H122.9H123.8V290.8H124.6V296.2H127.7V296.9H128.5V303.1H129.65V304.60H130.80H133.8H134.6V309.2H136.2V310H136.9V314.6H137.7V319.2H142.3V326.9H153.3V336.4H169.2V348.3H182.2V359.5H197.7V378.5" fill="none" stroke="#58a02c" stroke-width="1.6" stroke-linejoin="miter" stroke-linecap="butt"/>
<path d="M49.3,269.9H68.7H69.6V271.8H71.05V272.75H73.95V273.70H75.40H76.3V274.4H81.2V275.2H82.1V276.1H87.9V277.1H88.8V279.0H90.25V280.90H91.70H93.65V282.90H95.60H96.5V284.5H106.2V284.8H107.1V286.2H110V287.2H112.3V288.2" fill="none" stroke="#58a02c" stroke-width="1.28" stroke-linejoin="miter"/>
<path d="M53.2,269.30v2.6M56.1,269.30v2.6M58.7,269.30v2.6M65.1,269.30v2.6M70.3,271.43v2.6M79.3,273.80v2.6M85.8,275.50v2.6M91.6,280.22v2.6M92.9,280.94v2.6M99.3,283.90v2.6M116.1,287.60v2.6M125.7,296.20v2.6M129.9,303.98v2.6M132.7,304.60v2.6M141.2,319.20v2.6M146.1,326.90v2.6M157.2,336.40v2.6M172.3,348.30v2.6M184.0,359.50v2.6" fill="none" stroke="#58a02c" stroke-width="1.0"/>
<path d="M310.4,268.7H326.2V269.3H327.40V270.25H329.80V271.20H331.00H333.8V272H334.80V273.50H335.80H337.00V274.10H339.40V274.70H340.60H351.5H351.8V277H356H356.3V278.7H368H368.3V281.6H382.5H382.9V286.4H387.4H387.5V296.9H403.8V297.2H404.2V304.4H405H405.32V307.30H405.95V310.20H406.58V313.10H406.90H407.9V326.8H495V394.1" fill="none" stroke="#8a95bb" stroke-width="1.6" stroke-linejoin="miter" stroke-linecap="butt"/>
<path d="M314.6,268.70v2.6M321.6,268.70v2.6M326.6,269.46v2.6M334.6,272.64v2.6M338.3,274.14v2.6M342.1,274.70v2.6M346.7,274.70v2.6M353.6,277.00v2.6M357.4,278.70v2.6M362.5,278.70v2.6M370.8,281.60v2.6M381.1,281.60v2.6M385.2,286.40v2.6M391.2,296.90v2.6M406.3,310.12v2.6M411.1,326.80v2.6M439.2,326.80v2.6M464.6,326.80v2.6" fill="none" stroke="#8a95bb" stroke-width="1.0"/>
<path d="M310.4,268.7H320.4V269.3H321.85V270.70H323.30H329V271.3H331.10V272.50H333.20H333.6V277H335.20V278.20H336.80H338.30V280.50H339.80H341.65V283.00H343.50H344.45V285.60H345.40H353.5H354.5V288.5H355.25V290.90H356.00H363.5H364.05V292.80H364.60H365.55V295.70H366.50H367.00V298.10H368.00V300.50H368.50H369.90V303.30H371.30H372.30V306.20H373.30H373.95V308.70H374.60H385.8H386.7V311.2H387.70V314.00H388.70H389.6V316.9H404H404.4V326.8H414.6V344H437" fill="none" stroke="#28487d" stroke-width="1.6" stroke-linejoin="miter" stroke-linecap="butt"/>
<path d="M436.60,344.00v2.6" stroke="#28487d" stroke-width="1.0" fill="none"/>
<path d="M313.9,268.70v2.6M320.9,269.56v2.6M327.8,270.70v2.6M331.8,272.11v2.6M333.9,277.11v2.6M339.1,279.94v2.6M340.4,280.88v2.6M344.8,284.84v2.6M348.9,285.60v2.6M355.2,289.56v2.6M360.0,290.90v2.6M363.6,291.12v2.6M365.6,294.30v2.6M368.4,300.30v2.6M370.6,302.57v2.6M372.2,304.59v2.6M373.7,306.96v2.6M378.9,308.70v2.6M384.7,308.70v2.6M388.4,313.56v2.6M391.2,316.90v2.6M400.4,316.90v2.6M407.3,326.80v2.6M418.7,344.00v2.6" fill="none" stroke="#28487d" stroke-width="1.0"/>
<path d="M49.8,484.7H61.3V485.3H67.1H68.1V486.7H72.9H73.8V490.5H74.80V494.30H75.80H80.6H81.5V497.2H85.4H86.3V500.1H87.30V502.60H88.30H95H96V506.8H111.3H112.3V511.8H118.8H119.8V517.7H120.8V524.4H126.5H127.5V533.1H135.8H136.2V543.1H166.7H166.9V560H187.7" fill="none" stroke="#967ca6" stroke-width="1.6" stroke-linejoin="miter" stroke-linecap="butt"/>
<path d="M187.30,560.00v2.6" stroke="#967ca6" stroke-width="1.0" fill="none"/>
<path d="M52.7,484.70v2.6M70.2,486.70v2.6M75.1,492.92v2.6M77.0,494.30v2.6M83.8,497.20v2.6M87.1,501.16v2.6M92.2,502.60v2.6M100.4,506.80v2.6M115.9,511.80v2.6M124.9,524.40v2.6M129.4,533.10v2.6M139.5,543.10v2.6M149.1,543.10v2.6M171.1,560.00v2.6M185.0,560.00v2.6" fill="none" stroke="#967ca6" stroke-width="1.0"/>
<path d="M49.8,484.7H55.6V485.3H57.05V486.70H58.50H59.90V488.60H61.30H63.3V489.5H64.75V491.50H66.20H68.10V493.40H70.00H70.95V496.30H71.90H73.8V497.2H74.30V499.60H75.30V502.00H75.80H77.25V504.00H78.70H80.10V507.80H81.50H82.95V510.30H84.40H85.85V511.70H87.30H88.75V514.50H90.20H91.55V515.80H92.90H93.38V518.20H94.33V520.60H94.80H96.75V523.50H98.70H100.10V526.30H101.50H102.95V530.20H104.40H104.88V533.10H105.83V536.00H106.30H107.3V540.8H111.2V541.7H112.60V544.60H114.00H115.45V547.50H116.90H118.35V551.30H119.80H120.85V554.20H121.90H122.9V558.1H127.7V559H128.1V564.2H137.3H138.3V570H145H145.4V581.2H166.2H166.5V591.2H176.7" fill="none" stroke="#48195a" stroke-width="1.6" stroke-linejoin="miter" stroke-linecap="butt"/>
<path d="M176.30,591.20v2.6" stroke="#48195a" stroke-width="1.0" fill="none"/>
<path d="M54.5,484.70v2.6M56.2,485.59v2.6M60.2,487.84v2.6M63.5,489.61v2.6M69.2,492.98v2.6M71.5,495.62v2.6M73.9,497.40v2.6M77.8,503.37v2.6M80.1,505.91v2.6M83.3,509.39v2.6M87.2,511.64v2.6M90.2,514.46v2.6M91.3,515.03v2.6M94.5,519.85v2.6M97.9,522.88v2.6M101.4,526.22v2.6M101.6,526.41v2.6M106.2,535.64v2.6M109.4,540.80v2.6M112.9,543.43v2.6M116.4,547.03v2.6M119.7,551.14v2.6M120.6,552.36v2.6M129.3,564.20v2.6M140.8,570.00v2.6M147.0,581.20v2.6M157.7,581.20v2.6M170.5,591.20v2.6" fill="none" stroke="#48195a" stroke-width="1.0"/>
<path d="M311.2,484.5H311.9V487.2V491.8H315H315.8V496.5H316.5V501.1H319.6H320.4V508.8H338.8H339.6V517.2H341.2V518H341.5V527.7H342.00V531.05H343.00V534.40H343.50H355.4H356V543.1H358.8H359.2V551.2H395V571H410.8V591.2H418.8" fill="none" stroke="#c97d6d" stroke-width="1.6" stroke-linejoin="miter" stroke-linecap="butt"/>
<path d="M418.40,591.20v2.6" stroke="#c97d6d" stroke-width="1.0" fill="none"/>
<path d="M331.9,508.80v2.6M341.6,528.14v2.6M353.6,534.40v2.6M369.2,551.20v2.6M386.7,551.20v2.6M401.4,571.00v2.6" fill="none" stroke="#c97d6d" stroke-width="1.0"/>
<path d="M311.2,484.5H313.5V484.9H314.2V488.8H315.00V491.10H315.80H316.55V494.90H317.30H318.05V497.20H318.80H319.60V499.50H320.40H321.15V501.10H321.90H322.30V503.80H323.10V506.50H323.50H324.25V508.00H325.00H328.1V508.8H328.85V510.30H329.60H330.75V512.60H331.90H332.70V514.90H333.50H334.2V518H334.60V520.30H335.40V522.60H335.80H336.27V525.15H337.23V527.70H337.70H338.65V531.10H339.60H340.6V536.3H348.3H349.2V540.2H349.70V542.60H350.70V545.00H351.20H352.60V546.90H354.00H355V554.2H361.7H362.3V559.4H365.6V560.4V565.2H370.4V566.2H371.3V571H372.52V573.40H374.98V575.80H376.20H376.48V579.10H377.02V582.40H377.30H409.6H409.80V584.93H410.20V587.47H410.60V590.00H410.80H411.70V591.20H412.60V601.5H472" fill="none" stroke="#a2001c" stroke-width="1.6" stroke-linejoin="miter" stroke-linecap="butt"/>
<path d="M471.60,601.50v2.6" stroke="#a2001c" stroke-width="1.0" fill="none"/>
<path d="M314.4,489.06v2.6M316.0,491.60v2.6M318.2,496.27v2.6M319.1,497.61v2.6M320.6,499.71v2.6M322.6,503.61v2.6M324.1,507.13v2.6M328.7,509.39v2.6M331.5,512.24v2.6M332.1,512.90v2.6M334.5,518.86v2.6M335.9,522.74v2.6M338.2,528.52v2.6M342.6,536.30v2.6M349.8,541.71v2.6M354.0,546.88v2.6M357.4,554.20v2.6M374.5,574.18v2.6M376.5,577.59v2.6M380.9,582.40v2.6M404.9,582.40v2.6M409.6,582.50v2.6M412.2,590.93v2.6M420.6,601.50v2.6M445.2,601.50v2.6" fill="none" stroke="#a2001c" stroke-width="1.0"/>
<text x="8.8" y="242.7" font-size="12.6" fill="#000" font-weight="bold" text-anchor="start" textLength="7.8" lengthAdjust="spacingAndGlyphs">B</text>
<text x="268.8" y="243.1" font-size="12.6" fill="#000" font-weight="bold" text-anchor="start" textLength="8.8" lengthAdjust="spacingAndGlyphs">C</text>
<text x="8.8" y="459.2" font-size="12.6" fill="#000" font-weight="bold" text-anchor="start" textLength="9.2" lengthAdjust="spacingAndGlyphs">D</text>
<text x="269.6" y="459.0" font-size="12.6" fill="#000" font-weight="bold" text-anchor="start" textLength="7.2" lengthAdjust="spacingAndGlyphs">E</text>
<text x="126.9" y="258.9" font-size="10.6" fill="#67ad44" font-weight="normal" text-anchor="start" textLength="39.0" lengthAdjust="spacingAndGlyphs" stroke="#67ad44" stroke-width="0.2">Low risk</text>
<text x="366.1" y="258.8" font-size="10.6" fill="#4b649b" font-weight="normal" text-anchor="start" textLength="81.5" lengthAdjust="spacingAndGlyphs" stroke="#4b649b" stroke-width="0.2">Intermediate risk</text>
<text x="125.5" y="475.0" font-size="10.6" fill="#643278" font-weight="normal" text-anchor="start" textLength="42.2" lengthAdjust="spacingAndGlyphs" stroke="#643278" stroke-width="0.2">High risk</text>
<text x="374.5" y="474.9" font-size="10.6" fill="#b0243f" font-weight="normal" text-anchor="start" textLength="65.3" lengthAdjust="spacingAndGlyphs" stroke="#b0243f" stroke-width="0.2">Very high risk</text>
<text x="174.0" y="278.6" font-size="8.8" fill="#111" font-weight="normal" text-anchor="start" textLength="42.8" lengthAdjust="spacingAndGlyphs" stroke="#111" stroke-width="0.15">homCD49d</text>
<line x1="217.3" y1="273.1" x2="220.2" y2="273.1" stroke="#333" stroke-width="0.9"/>
<text x="182.4" y="288.2" font-size="8.8" fill="#111" font-weight="normal" text-anchor="start" textLength="28.5" lengthAdjust="spacingAndGlyphs" stroke="#111" stroke-width="0.15">(n=245)</text>
<text x="181.0" y="330.2" font-size="8.8" fill="#111" font-weight="normal" text-anchor="start" textLength="43.3" lengthAdjust="spacingAndGlyphs" stroke="#111" stroke-width="0.15">homCD49d</text>
<text x="224.6" y="327.0" font-size="6.5" fill="#111">+</text>
<text x="183.8" y="340.2" font-size="8.8" fill="#111" font-weight="normal" text-anchor="start" textLength="40.6" lengthAdjust="spacingAndGlyphs" stroke="#111" stroke-width="0.15">bimCD49d</text>
<text x="189.8" y="349.8" font-size="8.8" fill="#111" font-weight="normal" text-anchor="start" textLength="28.9" lengthAdjust="spacingAndGlyphs" stroke="#111" stroke-width="0.15">(n=158)</text>
<text x="430.4" y="309.2" font-size="8.8" fill="#111" font-weight="normal" text-anchor="start" textLength="44.0" lengthAdjust="spacingAndGlyphs" stroke="#111" stroke-width="0.15">homCD49d</text>
<line x1="474.9" y1="303.7" x2="477.8" y2="303.7" stroke="#333" stroke-width="0.9"/>
<text x="438.7" y="318.8" font-size="8.8" fill="#111" font-weight="normal" text-anchor="start" textLength="29.0" lengthAdjust="spacingAndGlyphs" stroke="#111" stroke-width="0.15">(n=101)</text>
<text x="405.3" y="357.5" font-size="8.8" fill="#111" font-weight="normal" text-anchor="start" textLength="45.6" lengthAdjust="spacingAndGlyphs" stroke="#111" stroke-width="0.15">homCD49d</text>
<text x="451.2" y="354.3" font-size="6.5" fill="#111">+</text>
<text x="408.9" y="367.5" font-size="8.8" fill="#111" font-weight="normal" text-anchor="start" textLength="41.0" lengthAdjust="spacingAndGlyphs" stroke="#111" stroke-width="0.15">bimCD49d</text>
<text x="415.2" y="377.1" font-size="8.8" fill="#111" font-weight="normal" text-anchor="start" textLength="28.4" lengthAdjust="spacingAndGlyphs" stroke="#111" stroke-width="0.15">(n=137)</text>
<text x="142.3" y="525.8" font-size="8.8" fill="#111" font-weight="normal" text-anchor="start" textLength="45.4" lengthAdjust="spacingAndGlyphs" stroke="#111" stroke-width="0.15">homCD49d</text>
<line x1="188.2" y1="520.3" x2="191.1" y2="520.3" stroke="#333" stroke-width="0.9"/>
<text x="153.5" y="535.4" font-size="8.8" fill="#111" font-weight="normal" text-anchor="start" textLength="25.2" lengthAdjust="spacingAndGlyphs" stroke="#111" stroke-width="0.15">(n=64)</text>
<text x="174.4" y="575.0" font-size="8.8" fill="#111" font-weight="normal" text-anchor="start" textLength="43.8" lengthAdjust="spacingAndGlyphs" stroke="#111" stroke-width="0.15">homCD49d</text>
<text x="218.5" y="571.8" font-size="6.5" fill="#111">+</text>
<text x="177.3" y="585.0" font-size="8.8" fill="#111" font-weight="normal" text-anchor="start" textLength="40.9" lengthAdjust="spacingAndGlyphs" stroke="#111" stroke-width="0.15">bimCD49d</text>
<text x="183.5" y="594.6" font-size="8.8" fill="#111" font-weight="normal" text-anchor="start" textLength="29.0" lengthAdjust="spacingAndGlyphs" stroke="#111" stroke-width="0.15">(n=107)</text>
<text x="354.0" y="531.5" font-size="8.8" fill="#111" font-weight="normal" text-anchor="start" textLength="45.4" lengthAdjust="spacingAndGlyphs" stroke="#111" stroke-width="0.15">homCD49d</text>
<line x1="399.9" y1="526.0" x2="402.8" y2="526.0" stroke="#333" stroke-width="0.9"/>
<text x="365.6" y="541.1" font-size="8.8" fill="#111" font-weight="normal" text-anchor="start" textLength="24.2" lengthAdjust="spacingAndGlyphs" stroke="#111" stroke-width="0.15">(n=16)</text>
<text x="428.8" y="571.5" font-size="8.8" fill="#111" font-weight="normal" text-anchor="start" textLength="45.4" lengthAdjust="spacingAndGlyphs" stroke="#111" stroke-width="0.15">homCD49d</text>
<text x="474.5" y="568.3" font-size="6.5" fill="#111">+</text>
<text x="432.0" y="581.5" font-size="8.8" fill="#111" font-weight="normal" text-anchor="start" textLength="41.5" lengthAdjust="spacingAndGlyphs" stroke="#111" stroke-width="0.15">bimCD49d</text>
<text x="440.3" y="591.1" font-size="8.8" fill="#111" font-weight="normal" text-anchor="start" textLength="25.6" lengthAdjust="spacingAndGlyphs" stroke="#111" stroke-width="0.15">(n=50)</text>
<text x="56.0" y="387.7" font-size="8.8" fill="#111" font-weight="normal" text-anchor="start" textLength="34.8" lengthAdjust="spacingAndGlyphs" stroke="#111" stroke-width="0.15">p&lt;0.0001</text>
<text x="314.6" y="387.7" font-size="8.8" fill="#111" font-weight="normal" text-anchor="start" textLength="31.9" lengthAdjust="spacingAndGlyphs" stroke="#111" stroke-width="0.15">p=0.035</text>
<text x="55.8" y="605.2" font-size="8.8" fill="#111" font-weight="normal" text-anchor="start" textLength="31.9" lengthAdjust="spacingAndGlyphs" stroke="#111" stroke-width="0.15">p=0.012</text>
<text x="314.2" y="604.6" font-size="8.8" fill="#111" font-weight="normal" text-anchor="start" textLength="27.5" lengthAdjust="spacingAndGlyphs" stroke="#111" stroke-width="0.15">p=0.35</text>
<rect x="0.6" y="0.6" width="518.8" height="653.8" fill="none" stroke="#000" stroke-width="1.4"/>
</svg>
</body></html>
